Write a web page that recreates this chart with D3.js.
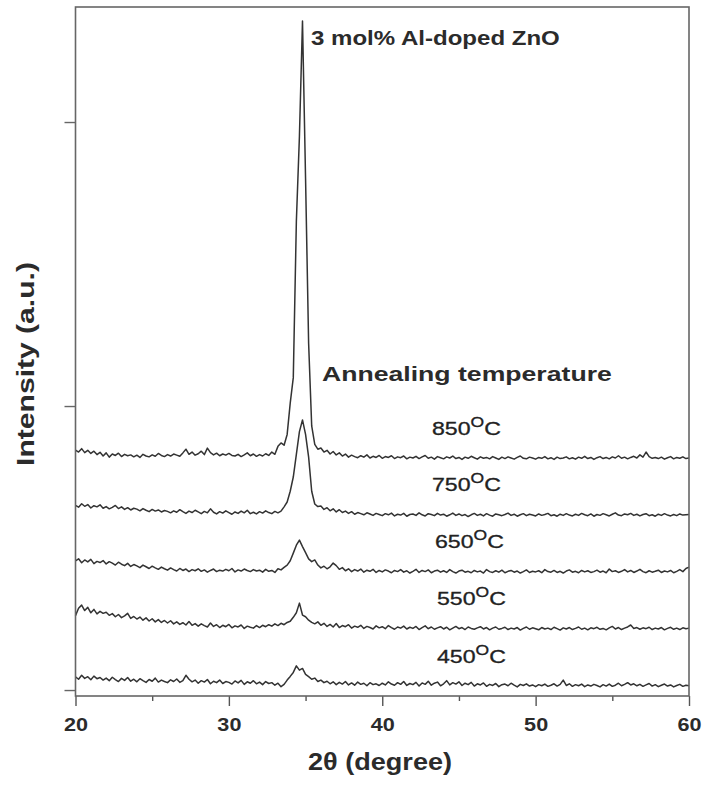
<!DOCTYPE html>
<html>
<head>
<meta charset="utf-8">
<script src="https://cdn.jsdelivr.net/npm/d3@7/dist/d3.min.js"></script>
<style>
  body { margin: 0; background: #fff; }
  svg { display: block; font-family: "Liberation Sans", Arial, sans-serif; }
</style>
</head>
<body>
<div id="xrd"></div>
<script>
// XRD scans, 20-60 deg in 0.2 deg steps (201 points each), intensity in a.u.
var temps = ["450", "550", "650", "750", "850"];
var offsets = [0, 200, 400, 600, 800];
var xTicks = [20, 30, 40, 50, 60];
var xMinor = [25, 35, 45, 55];
var yTicks = [0, 1000, 2000];

var i450 = [46, 38, 52, 41, 47, 36, 49, 40, 44, 35,
  42, 33, 45, 37, 30, 41, 34, 44, 31, 38,
  29, 40, 33, 27, 37, 31, 42, 28, 35, 30,
  26, 36, 30, 39, 27, 33, 52, 38, 29, 35,
  24, 33, 28, 37, 22, 31, 26, 35, 23, 30,
  27, 21, 32, 25, 34, 20, 29, 24, 33, 22,
  28, 19, 30, 23, 26, 17, 24, 12, 20, 35,
  48, 62, 85, 70, 76, 55, 47, 38, 42, 30,
  35, 26, 31, 22, 29, 19, 27, 21, 30, 18,
  25, 17, 28, 20, 24, 15, 26, 19, 22, 16,
  24, 18, 29, 21, 17, 26, 20, 30, 16, 23,
  19, 27, 14, 25, 20, 31, 17, 24, 28, 15,
  22, 33, 18, 26, 21, 29, 16, 24, 19, 27,
  14, 22, 18, 25, 13, 20, 16, 23, 12, 19,
  21, 15, 24, 17, 11, 20, 16, 22, 14, 18,
  12, 19, 15, 21, 13, 17, 22, 14, 20, 35,
  16, 22, 13, 19, 15, 21, 12, 18, 14, 20,
  16, 11, 19, 14, 21, 13, 17, 24, 15, 20,
  26, 18, 22, 15, 20, 13, 18, 23, 14, 19,
  12, 17, 21, 14, 18, 11, 16, 20, 13, 17, 15];

var i550 = [62, 88, 99, 80, 91, 72, 84, 68, 77, 70,
  74, 63, 69, 58, 66, 55, 61, 70, 52, 59,
  50, 57, 46, 54, 43, 51, 40, 48, 38, 45,
  36, 44, 33, 40, 31, 37, 29, 41, 28, 34,
  25, 33, 27, 22, 36, 24, 30, 20, 28, 23,
  31, 19, 26, 22, 29, 17, 25, 21, 18, 27,
  20, 28, 23, 30, 25, 33, 27, 35, 30, 38,
  42, 56, 72, 106, 64, 58, 46, 38, 33, 40,
  28, 35, 24, 31, 22, 34, 20, 27, 23, 30,
  18, 25, 21, 28, 17, 24, 20, 15, 26, 19,
  23, 16, 27, 20, 14, 22, 18, 25, 15, 21,
  17, 24, 13, 20, 26, 16, 22, 14, 19, 23,
  15, 21, 12, 18, 24, 16, 20, 13, 22, 17,
  14, 19, 23, 15, 20, 12, 18, 22, 14, 17,
  21, 13, 18, 15, 20, 11, 17, 22, 14, 19,
  16, 12, 20, 15, 18, 13, 21, 16, 11, 19,
  15, 20, 13, 17, 22, 14, 18, 12, 19, 16,
  21, 14, 17, 12, 19, 24, 15, 20, 13, 18,
  22, 29, 17, 20, 14, 19, 16, 21, 13, 18,
  15, 20, 12, 17, 21, 14, 18, 13, 19, 16, 18];

var i650 = [55, 62, 48, 58, 51, 60, 45, 53, 49, 56,
  44, 52, 47, 40, 50, 43, 38, 46, 35, 42,
  37, 31, 40, 34, 28, 36, 30, 25, 33, 27,
  22, 30, 24, 19, 28, 21, 26, 17, 24, 20,
  27, 18, 23, 15, 21, 26, 17, 22, 19, 25,
  20, 28, 16, 23, 19, 26, 21, 17, 24, 19,
  22, 15, 25, 18, 21, 14, 27, 23, 32, 40,
  55, 82, 110, 128, 105, 84, 62, 52, 58, 40,
  30, 36, 27, 34, 47, 38, 25, 31, 20, 27,
  17, 24, 19, 26, 15, 22, 18, 25, 14, 21,
  16, 23, 19, 13, 21, 17, 24, 15, 20, 12,
  18, 25, 14, 21, 17, 23, 13, 19, 22, 15,
  20, 14, 24, 17, 12, 19, 22, 15, 18, 13,
  21, 16, 19, 12, 24, 17, 14, 20, 15, 22,
  13, 18, 21, 15, 19, 12, 17, 23, 14, 18,
  16, 20, 13, 24, 17, 15, 21, 14, 18, 12,
  19, 23, 15, 18, 13, 21, 16, 20, 14, 17,
  22, 15, 19, 13, 26, 17, 20, 14, 18, 24,
  16, 21, 14, 19, 25, 17, 13, 20, 15, 18,
  22, 14, 19, 16, 21, 13, 18, 24, 17, 28, 33];

var i750 = [50, 44, 56, 47, 53, 41, 49, 45, 52, 40,
  46, 38, 43, 50, 39, 45, 36, 42, 34, 40,
  37, 31, 39, 33, 28, 36, 30, 34, 27, 32,
  29, 24, 31, 26, 35, 28, 22, 30, 25, 33,
  27, 21, 29, 24, 38, 26, 20, 28, 23, 31,
  25, 19, 27, 22, 30, 24, 33, 21, 26, 20,
  28, 23, 31, 25, 21, 29, 24, 30, 45, 62,
  100, 150, 230, 310, 351, 300, 220, 100, 55, 46,
  48, 36, 42, 31, 38, 27, 35, 25, 30, 22,
  28, 19, 25, 21, 17, 24, 20, 15, 22, 18,
  14, 21, 17, 23, 13, 19, 16, 22, 12, 18,
  20, 15, 24, 17, 13, 21, 18, 14, 22, 16,
  19, 12, 17, 23, 15, 20, 14, 18, 11, 17,
  22, 15, 19, 13, 21, 16, 12, 20, 17, 14,
  18, 23, 15, 19, 12, 17, 21, 14, 19, 16,
  13, 20, 15, 18, 22, 14, 17, 12, 19, 15,
  21, 16, 13, 19, 15, 22, 17, 14, 20, 12,
  18, 15, 21, 17, 13, 19, 24, 16, 14, 20,
  17, 22, 15, 19, 13, 18, 21, 14, 17, 12,
  19, 15, 21, 16, 13, 18, 14, 20, 16, 17, 18];

var i850 = [45, 38, 50, 36, 44, 33, 41, 29, 37, 24,
  35, 20, 31, 26, 34, 22, 30, 25, 28, 21,
  27, 19, 30, 24, 21, 28, 23, 33, 26, 22,
  29, 24, 31, 27, 23, 35, 48, 30, 38, 27,
  32, 41, 29, 52, 36, 28, 34, 25, 31, 27,
  33, 26, 24, 30, 22, 28, 35, 25, 31, 23,
  29, 24, 32, 26, 38, 30, 58, 70, 62, 100,
  210, 300, 850, 1150, 1556, 1000, 420, 130, 65, 48,
  52, 38, 44, 31, 40, 28, 35, 24, 31, 20,
  27, 22, 18, 25, 20, 28, 17, 23, 19, 26,
  16, 22, 19, 25, 15, 21, 18, 24, 14, 20,
  17, 23, 15, 21, 26, 16, 20, 13, 22, 18,
  14, 21, 17, 24, 15, 19, 12, 20, 16, 23,
  18, 13, 21, 16, 19, 14, 22, 17, 12, 20,
  15, 21, 17, 13, 19, 24, 16, 14, 20, 17,
  13, 19, 16, 22, 14, 18, 12, 20, 15, 17,
  21, 14, 18, 13, 20, 16, 23, 15, 19, 12,
  18, 22, 15, 19, 14, 21, 17, 25, 16, 20,
  14, 19, 23, 17, 28, 20, 38, 22, 16, 19,
  15, 20, 13, 18, 22, 14, 19, 16, 21, 15, 17];

var scans = [i450, i550, i650, i750, i850];
var twoTheta = d3.range(201).map(function (i) { return 20 + i * 0.2; });

// label spots (x start, baseline) for the temperature labels
var labelPos = [[437, 663], [437, 605], [435, 548], [432, 491], [432, 435]];

var margin = {top: 7, right: 17, bottom: 91, left: 75.5},
    width = 706 - margin.left - margin.right,
    height = 787 - margin.top - margin.bottom;

var root = d3.select("#xrd")
    .append("svg")
    .attr("width", 706)
    .attr("height", 787);

var svg = root.append("g")
    .attr("transform", "translate(" + margin.left + "," + margin.top + ")");

var x = d3.scaleLinear().domain([20, 60]).range([0, width]);
var y = d3.scaleLinear().domain([-21, 2405]).range([height, 0]);

// stretch a text horizontally so it fills the wanted width
function fit(t, w, px, py, rot) {
  var bw = t.node().getBBox().width;
  var s = w / bw;
  t.attr("transform", "translate(" + px + "," + py + ")" + (rot ? " rotate(" + rot + ")" : "") + " scale(" + s + ",1)");
}

// scans
var line = d3.line()
    .x(function (d) { return x(d[0]); })
    .y(function (d) { return y(d[1]); });

scans.forEach(function (s, k) {
  var pts = s.map(function (v, i) { return [twoTheta[i], v + offsets[k]]; });
  svg.append("path")
      .datum(pts)
      .attr("fill", "none")
      .attr("stroke", "#333")
      .attr("stroke-width", 1.5)
      .attr("stroke-linejoin", "round")
      .attr("d", line);
});

// axes
var xAxis = svg.append("g")
    .attr("transform", "translate(0," + height + ")")
    .call(d3.axisBottom(x).tickValues(xTicks).tickSize(10).tickFormat(d3.format("d")));
xAxis.select(".domain").remove();
xAxis.selectAll(".tick line").attr("stroke", "#555").attr("stroke-width", 1.4);
xAxis.selectAll(".tick text")
    .attr("y", 22)
    .attr("fill", "#2b2b2b")
    .style("font-size", "18px")
    .style("font-weight", "bold")
    .attr("transform", "scale(1.2,1)");

var xMin = svg.append("g")
    .attr("transform", "translate(0," + height + ")")
    .call(d3.axisBottom(x).tickValues(xMinor).tickSize(5).tickFormat(""));
xMin.select(".domain").remove();
xMin.selectAll(".tick line").attr("stroke", "#555").attr("stroke-width", 1.4);

var yAxis = svg.append("g")
    .call(d3.axisLeft(y).tickValues(yTicks).tickSize(11).tickFormat(""));
yAxis.select(".domain").remove();
yAxis.selectAll(".tick line").attr("stroke", "#666").attr("stroke-width", 1.4);

// frame
svg.append("rect")
    .attr("x", 0).attr("y", 0)
    .attr("width", width).attr("height", height)
    .attr("fill", "none")
    .attr("stroke", "#666")
    .attr("stroke-width", 1.6);

// texts
var title = root.append("text")
    .attr("fill", "#2b2b2b")
    .style("font-size", "21px")
    .style("font-weight", "bold")
    .text("3 mol% Al-doped ZnO");
fit(title, 249, 311, 45);

var ann = root.append("text")
    .attr("fill", "#2b2b2b")
    .style("font-size", "20px")
    .style("font-weight", "bold")
    .text("Annealing temperature");
fit(ann, 290, 322, 381);

temps.forEach(function (t, k) {
  var lab = root.append("text")
      .attr("fill", "#222")
      .style("font-size", "18.5px")
      .style("stroke", "#222")
      .style("stroke-width", 0.3);
  lab.append("tspan").text(t);
  lab.append("tspan").attr("dy", -8).style("font-size", "14px").text("O");
  lab.append("tspan").attr("dy", 8).text("C");
  fit(lab, 69, labelPos[k][0], labelPos[k][1]);
});

var xl = root.append("text")
    .attr("fill", "#2b2b2b")
    .attr("text-anchor", "middle")
    .style("font-size", "23px")
    .style("font-weight", "bold")
    .text("2\u03b8 (degree)");
fit(xl, 144, 380, 770);

var yl = root.append("text")
    .attr("fill", "#2b2b2b")
    .attr("text-anchor", "middle")
    .style("font-size", "23px")
    .style("font-weight", "bold")
    .text("Intensity (a.u.)");
fit(yl, 204, 34, 364, -90);
</script>
</body>
</html>
